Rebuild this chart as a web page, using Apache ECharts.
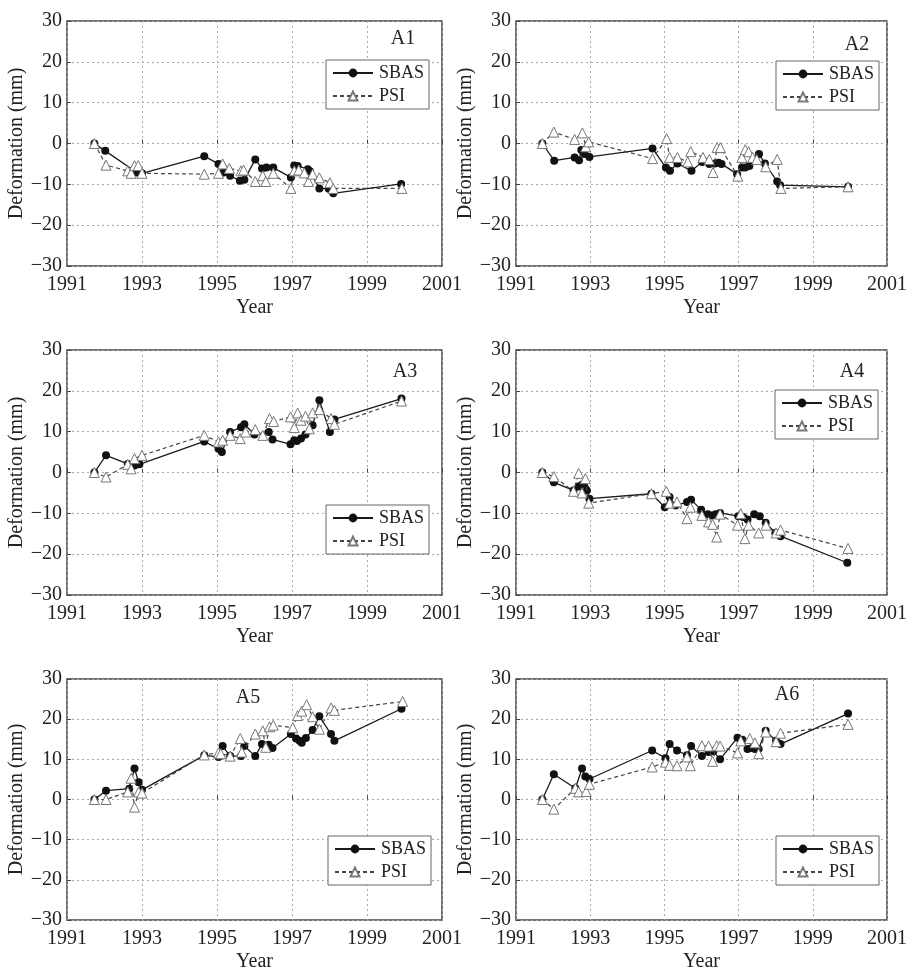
<!DOCTYPE html>
<html>
<head>
<meta charset="utf-8">
<script src="https://cdn.jsdelivr.net/npm/echarts@6/dist/echarts.min.js"></script>
<style>
html,body{margin:0;padding:0;background:#fff;}
#c{width:910px;height:973px;}
</style>
</head>
<body>
<div id="c"></div>
<script>
// ---- data (year, deformation mm) ----
const panelNames = ['A1','A2','A3','A4','A5','A6'];
const xTicks = [1991,1993,1995,1997,1999,2001];
const yTicks = [-30,-20,-10,0,10,20,30];

const A1_SBAS = [[1991.73,0],[1992.02,-1.8],[1992.86,-7.1],[1993.0,-7.3],[1994.66,-3.1],[1995.04,-5.0],[1995.17,-7.1],[1995.35,-7.9],[1995.61,-9.1],[1995.73,-8.9],[1996.02,-3.9],[1996.2,-6.1],[1996.32,-5.9],[1996.5,-5.9],[1996.97,-8.3],[1997.06,-5.4],[1997.15,-5.5],[1997.42,-6.3],[1997.48,-6.8],[1997.73,-11.0],[1997.98,-11.1],[1998.1,-12.2],[1999.91,-9.9]];
const A1_PSI = [[1991.73,0],[1992.04,-5.3],[1992.62,-6.7],[1992.71,-7.3],[1992.8,-5.4],[1992.9,-5.4],[1993.0,-7.3],[1994.66,-7.5],[1995.04,-7.3],[1995.15,-5.0],[1995.33,-6.1],[1995.64,-6.7],[1995.71,-6.5],[1996.02,-9.3],[1996.22,-7.9],[1996.3,-9.3],[1996.5,-7.3],[1996.97,-11.0],[1997.06,-6.7],[1997.18,-6.5],[1997.33,-7.2],[1997.44,-9.3],[1997.55,-7.5],[1997.73,-8.4],[1998.01,-9.6],[1998.1,-11.0],[1999.93,-11.0]];

const A2_SBAS = [[1991.71,0],[1992.03,-4.2],[1992.58,-3.4],[1992.7,-4.1],[1992.76,-1.6],[1992.85,-2.6],[1992.98,-3.3],[1994.68,-1.2],[1995.04,-5.9],[1995.15,-6.7],[1995.35,-4.9],[1995.73,-6.7],[1996.02,-4.5],[1996.21,-5.0],[1996.36,-4.9],[1996.46,-4.7],[1996.54,-5.0],[1996.96,-7.5],[1997.09,-5.9],[1997.18,-5.9],[1997.29,-5.5],[1997.4,-3.9],[1997.55,-2.6],[1997.71,-4.9],[1998.04,-9.3],[1998.12,-10.2],[1999.95,-10.6]];
const A2_PSI = [[1991.71,0],[1992.02,2.8],[1992.58,1.0],[1992.79,2.6],[1992.88,-0.8],[1992.96,0.4],[1994.68,-3.7],[1995.06,1.2],[1995.14,-3.4],[1995.35,-3.4],[1995.63,-4.5],[1995.71,-2.0],[1996.04,-3.4],[1996.21,-3.9],[1996.31,-7.1],[1996.42,-1.0],[1996.51,-1.0],[1996.98,-8.0],[1997.09,-3.4],[1997.18,-1.5],[1997.27,-2.0],[1997.38,-3.4],[1997.49,-3.9],[1997.73,-5.7],[1998.04,-3.9],[1998.14,-11.0],[1999.95,-10.6]];

const A3_SBAS = [[1991.73,0],[1992.04,4.2],[1992.62,2.1],[1992.8,1.7],[1992.93,2.0],[1994.66,7.6],[1995.04,5.8],[1995.13,5.0],[1995.35,9.9],[1995.64,11.1],[1995.73,11.8],[1996.0,9.3],[1996.38,9.9],[1996.48,8.1],[1996.96,6.9],[1997.06,7.9],[1997.13,7.7],[1997.24,8.3],[1997.36,9.3],[1997.55,11.6],[1997.73,17.7],[1998.01,9.9],[1998.13,13.0],[1999.92,18.1]];
const A3_PSI = [[1991.73,0],[1992.04,-1.1],[1992.62,2.0],[1992.71,0.9],[1992.8,3.4],[1993.0,4.2],[1994.66,9.1],[1995.04,7.5],[1995.15,7.9],[1995.35,9.1],[1995.62,8.3],[1995.76,9.9],[1996.02,10.5],[1996.22,9.1],[1996.4,13.2],[1996.51,12.5],[1996.96,13.6],[1997.06,11.0],[1997.15,14.6],[1997.24,12.8],[1997.36,13.8],[1997.46,10.7],[1997.55,14.6],[1997.73,15.4],[1998.04,13.2],[1998.13,11.8],[1999.92,17.5]];

const A4_SBAS = [[1991.71,0],[1992.02,-2.4],[1992.55,-4.4],[1992.69,-3.4],[1992.76,-3.2],[1992.85,-3.6],[1992.91,-4.4],[1992.98,-6.4],[1994.65,-5.2],[1995.01,-8.5],[1995.14,-6.0],[1995.3,-8.1],[1995.61,-7.2],[1995.72,-6.7],[1995.99,-9.1],[1996.17,-10.2],[1996.28,-10.5],[1996.38,-10.2],[1996.5,-9.9],[1996.99,-10.7],[1997.12,-10.9],[1997.24,-11.5],[1997.42,-10.2],[1997.57,-10.7],[1997.73,-12.3],[1997.99,-14.8],[1998.13,-15.6],[1999.93,-22.1]];
const A4_PSI = [[1991.71,0],[1992.02,-1.0],[1992.55,-4.6],[1992.69,-0.2],[1992.78,-5.0],[1992.87,-1.5],[1992.96,-7.5],[1994.65,-5.2],[1995.05,-4.6],[1995.14,-7.5],[1995.34,-7.2],[1995.61,-11.3],[1995.7,-8.5],[1996.01,-10.5],[1996.19,-12.1],[1996.3,-12.7],[1996.41,-15.8],[1996.5,-10.2],[1996.97,-12.9],[1997.06,-10.1],[1997.17,-16.2],[1997.27,-12.9],[1997.54,-14.8],[1997.74,-12.9],[1998.01,-14.8],[1998.13,-14.1],[1999.95,-18.6]];

const A5_SBAS = [[1991.73,0],[1992.04,2.2],[1992.66,2.7],[1992.8,7.7],[1992.91,4.3],[1993.0,2.4],[1994.66,11.0],[1995.04,10.6],[1995.15,13.3],[1995.35,10.8],[1995.64,10.8],[1995.73,13.3],[1996.02,10.8],[1996.2,13.8],[1996.38,13.6],[1996.48,12.8],[1996.97,16.3],[1997.11,15.2],[1997.2,14.6],[1997.26,14.1],[1997.37,15.3],[1997.55,17.3],[1997.73,20.7],[1998.04,16.3],[1998.13,14.6],[1999.92,22.6]];
const A5_PSI = [[1991.73,0],[1992.04,0],[1992.62,1.9],[1992.71,5.3],[1992.8,-1.9],[1992.91,1.9],[1993.0,1.6],[1994.66,11.1],[1995.04,11.6],[1995.1,11.4],[1995.35,10.8],[1995.62,15.2],[1995.66,11.8],[1996.02,16.3],[1996.22,17.1],[1996.3,13.0],[1996.4,18.1],[1996.5,18.5],[1997.02,17.9],[1997.15,20.9],[1997.26,22.0],[1997.39,23.6],[1997.55,20.6],[1997.73,17.5],[1998.04,22.8],[1998.13,22.2],[1999.95,24.4]];

const A6_SBAS = [[1991.71,0],[1992.02,6.3],[1992.6,2.8],[1992.78,7.7],[1992.87,5.7],[1992.98,5.1],[1994.67,12.2],[1995.03,10.3],[1995.14,13.8],[1995.34,12.2],[1995.61,11.0],[1995.72,13.3],[1996.01,10.8],[1996.19,11.8],[1996.32,12.0],[1996.5,10.0],[1996.97,15.4],[1997.1,14.9],[1997.24,12.6],[1997.36,12.8],[1997.44,12.6],[1997.54,12.6],[1997.73,17.1],[1998.01,14.6],[1998.13,13.8],[1999.95,21.4]];
const A6_PSI = [[1991.71,0],[1992.02,-2.4],[1992.6,2.8],[1992.69,1.9],[1992.89,2.0],[1992.98,3.8],[1994.67,8.1],[1995.03,9.3],[1995.14,8.5],[1995.34,8.4],[1995.61,10.6],[1995.7,8.4],[1996.01,13.4],[1996.19,13.3],[1996.3,9.5],[1996.41,13.4],[1996.5,13.3],[1996.97,11.6],[1997.06,14.6],[1997.3,15.2],[1997.44,14.1],[1997.54,11.4],[1997.73,16.8],[1998.01,14.4],[1998.13,16.5],[1999.95,18.7]];

const sbasData = [A1_SBAS, A2_SBAS, A3_SBAS, A4_SBAS, A5_SBAS, A6_SBAS];
const psiData = [A1_PSI, A2_PSI, A3_PSI, A4_PSI, A5_PSI, A6_PSI];

// ---- layout ----
const FONT = '"Liberation Serif","DejaVu Serif",serif';
const colLeft = [67, 516];
const colWidth = [375, 373];
const rowTop = [21, 350, 679];
const rowHeight = 245;
const titlePos = [[403,39],[857,45],[405,372],[852,372],[248,698],[787,695]];
const legendPos = [[326,60],[776,61],[326,505],[775,390],[328,836],[776,836]];

const grids = [], xAxes = [], yAxes = [], series = [], legends = [], graphics = [];
for (let i = 0; i < 6; i++) {
  const c = i % 2, r = Math.floor(i / 2);
  grids.push({left: colLeft[c], top: rowTop[r], width: colWidth[c], height: rowHeight,
    show: true, borderColor: '#444', borderWidth: 1.5, backgroundColor: 'transparent'});
  xAxes.push({type: 'value', gridIndex: i, min: xTicks[0], max: xTicks[xTicks.length-1], interval: 2,
    name: 'Year', nameLocation: 'middle', nameGap: 32,
    nameTextStyle: {fontFamily: FONT, fontSize: 20, color: '#222'},
    axisLine: {show: false},
    axisTick: {show: true, inside: true, length: 4, lineStyle: {color: '#444'}},
    axisLabel: {fontFamily: FONT, fontSize: 20, color: '#222', margin: 9, formatter: v => String(v)},
    splitLine: {show: true, lineStyle: {type: [2,3], color: '#aaa', width: 1}}});
  yAxes.push({type: 'value', gridIndex: i, min: yTicks[0], max: yTicks[yTicks.length-1], interval: 10,
    name: 'Deformation (mm)', nameLocation: 'middle', nameGap: 40,
    nameTextStyle: {fontFamily: FONT, fontSize: 20, color: '#222'},
    axisLine: {show: false},
    axisTick: {show: true, inside: true, length: 4, lineStyle: {color: '#444'}},
    axisLabel: {fontFamily: FONT, fontSize: 20, color: '#222', margin: 5,
      formatter: v => (v < 0 ? '\u2212' + Math.abs(v) : String(v))},
    splitLine: {show: true, lineStyle: {type: [2,3], color: '#aaa', width: 1}}});
  series.push({name: 'SBAS', type: 'line', xAxisIndex: i, yAxisIndex: i, data: sbasData[i],
    symbol: 'circle', symbolSize: 8, z: 3,
    lineStyle: {color: '#1a1a1a', width: 1.3},
    itemStyle: {color: '#111', borderColor: '#111', borderWidth: 0}});
  series.push({name: 'PSI', type: 'line', xAxisIndex: i, yAxisIndex: i, data: psiData[i],
    symbol: 'triangle', symbolSize: 10, z: 4,
    lineStyle: {color: '#444', width: 1.2, type: [4,3]},
    itemStyle: {color: '#fff', borderColor: '#777', borderWidth: 1}});
  legends.push({data: ['SBAS','PSI'], orient: 'vertical', left: legendPos[i][0], top: legendPos[i][1],
    itemWidth: 40, itemHeight: 11, itemGap: 5, padding: [4,5,4,6],
    backgroundColor: '#fff', borderColor: '#666', borderWidth: 1, borderRadius: 0,
    selectedMode: false,
    textStyle: {fontFamily: FONT, fontSize: 18, color: '#222', padding: [0,0,0,1]}});
  graphics.push({type: 'text', x: titlePos[i][0], y: titlePos[i][1], z: 10,
    style: {text: panelNames[i], font: '20px ' + FONT, fill: '#222', textAlign: 'center', textVerticalAlign: 'middle'}});
}

const chart = echarts.init(document.getElementById('c'), null, {renderer: 'canvas'});
chart.setOption({
  backgroundColor: '#fff',
  animation: false,
  grid: grids, xAxis: xAxes, yAxis: yAxes, series: series, legend: legends,
  graphic: graphics
});
</script>
</body>
</html>
